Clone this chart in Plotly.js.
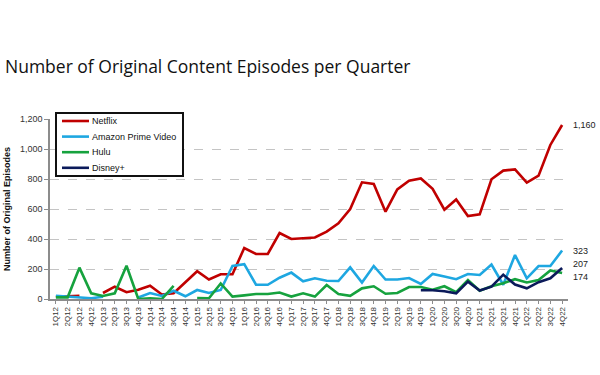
<!DOCTYPE html>
<html>
<head>
<meta charset="utf-8">
<script src="https://cdn.plot.ly/plotly-3.0.1.min.js"></script>
<style>html,body{margin:0;padding:0;background:#fff;}#chart{width:600px;height:375px;}</style>
</head>
<body>
<div id="chart"></div>
<script>
const quarters = ["1Q12","2Q12","3Q12","4Q12","1Q13","2Q13","3Q13","4Q13","1Q14","2Q14","3Q14","4Q14",
  "1Q15","2Q15","3Q15","4Q15","1Q16","2Q16","3Q16","4Q16","1Q17","2Q17","3Q17","4Q17",
  "1Q18","2Q18","3Q18","4Q18","1Q19","2Q19","3Q19","4Q19","1Q20","2Q20","3Q20","4Q20",
  "1Q21","2Q21","3Q21","4Q21","1Q22","2Q22","3Q22","4Q22"];

const netflix = [15,18,22,null,40,82,45,62,88,30,38,115,
  185,130,165,165,340,300,300,440,400,405,410,449,
  504,600,778,767,582,731,789,804,735,595,664,553,
  564,798,856,864,776,822,1027,1160];

const amazon = [22,15,10,5,15,null,null,10,40,20,55,18,
  60,40,60,220,232,95,95,142,176,118,138,122,
  120,211,110,220,130,130,140,100,167,150,132,167,
  160,230,95,293,138,220,220,323];

const hulu = [11,11,209,38,20,38,222,0,5,0,87,null,
  6,5,104,16,24,33,33,43,16,38,16,93,
  33,21,71,85,35,40,80,80,62,85,45,127,
  55,85,105,132,110,127,190,174];

const disney = [null,null,null,null,null,null,null,null,null,null,null,null,
  null,null,null,null,null,null,null,null,null,null,null,null,
  null,null,null,null,null,null,null,58,58,52,38,116,
  56,82,162,96,71,112,138,207];

const seriesNames = ['Netflix', 'Amazon Prime Video', 'Hulu', 'Disney+'];
const seriesColors = ['#c00000', '#1ea7e1', '#16a23e', '#0b1a5a'];
const seriesValues = [netflix, amazon, hulu, disney];

const endLabels = [["1,160",1160,0],["323",323,0],["207",207,4],["174",174,-4]];

const data = seriesNames.map((name, i) => ({
  type: 'scatter', mode: 'lines', name: name, x: quarters, y: seriesValues[i],
  line: {color: seriesColors[i], width: 2.6}, connectgaps: false
}));

// plot area in pixels
const PL = 50, PR = 568, PT = 119, PB = 299;
const px = v => (v - PL) / (PR - PL);
const py = v => (PB - v) / (PB - PT);

const shapes = [{
  type: 'rect', xref: 'paper', yref: 'paper',
  x0: px(56), x1: px(183), y0: py(176), y1: py(113),
  line: {color: '#111', width: 2}, fillcolor: '#fff', layer: 'above'
}];
const legendAnn = [];
seriesNames.forEach((name, i) => {
  const yy = 121 + i * 15.6;
  shapes.push({
    type: 'line', xref: 'paper', yref: 'paper',
    x0: px(62), x1: px(89), y0: py(yy), y1: py(yy),
    line: {color: seriesColors[i], width: 2.6}, layer: 'above'
  });
  legendAnn.push({
    xref: 'paper', yref: 'paper', x: px(90), y: py(yy),
    text: name, showarrow: false, xanchor: 'left', yanchor: 'middle',
    font: {size: 9, color: '#111'}
  });
});

const layout = {
  width: 600, height: 375,
  paper_bgcolor: '#fff', plot_bgcolor: '#fff',
  margin: {l: 50, r: 32, t: 119, b: 76},
  font: {family: 'Liberation Sans, Arial, sans-serif', color: '#222'},
  title: {
    text: 'Number of Original Content Episodes per Quarter',
    font: {family: 'Open Sans', size: 17.5, color: '#111', weight: 500},
    x: 5/600, xanchor: 'left', xref: 'container',
    y: 1 - 67/375, yanchor: 'middle', yref: 'container'
  },
  xaxis: {
    type: 'category', range: [-0.5, 43.5],
    tickangle: -90, tickfont: {size: 8, color: '#333'},
    showline: true, linecolor: '#8c8c8c', linewidth: 1.5,
    ticks: 'outside', ticklen: 3, tickcolor: '#8c8c8c',
    showgrid: false, zeroline: false
  },
  yaxis: {
    range: [0, 1200], tickvals: [0,200,400,600,800,1000,1200],
    ticktext: ['0','200','400','600','800','1,000','1,200'],
    tickfont: {size: 9, color: '#333'},
    showline: true, linecolor: '#8c8c8c', linewidth: 1.5,
    ticks: 'outside', ticklen: 4, tickcolor: '#8c8c8c',
    showgrid: true, gridcolor: '#c4c4c4', griddash: 'dash', gridwidth: 1,
    zeroline: false,
    title: {text: 'Number of Original Episodes', font: {size: 9, color: '#111', weight: 'bold'}, standoff: 8}
  },
  showlegend: false,
  shapes: shapes,
  annotations: endLabels.map(([t, v, s]) => ({
    x: 43, y: v, xref: 'x', yref: 'y', text: t, showarrow: false,
    xanchor: 'left', xshift: 9, yshift: s, font: {size: 9, color: '#222'}
  })).concat(legendAnn)
};

Plotly.newPlot('chart', data, layout, {displayModeBar: false});
</script>
</body>
</html>
